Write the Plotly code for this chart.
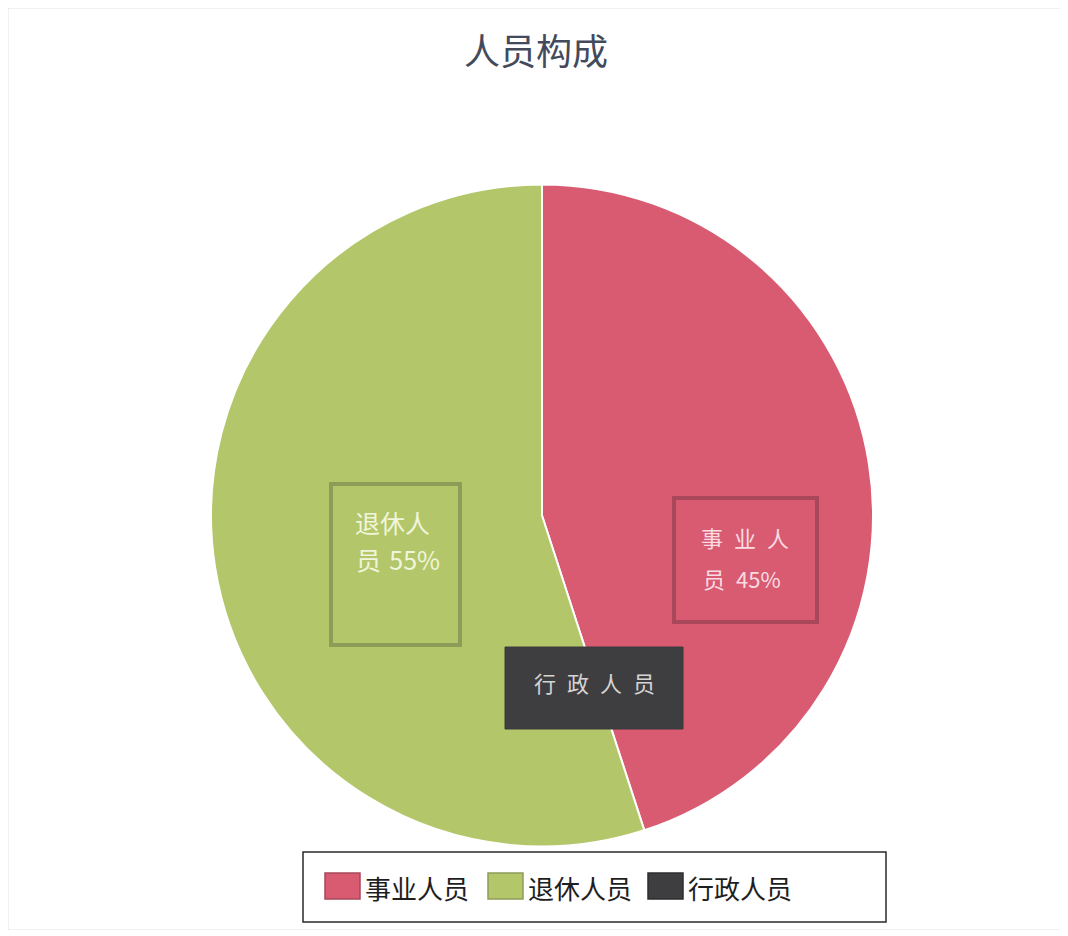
import plotly.graph_objects as go

W, H = 1056, 922
OX, OY = 8, 8  # page body margin offset

categories = ["事业人员", "退休人员", "行政人员"]
values = [45, 55, 0]
colors = ["#D95B72", "#B3C76A", "#3E3E40"]
title_text = "人员构成"

FONT = "Noto Sans CJK SC"
EN = "\u2002"
TPM = "\u2004"


def px(x):
    return (x - OX) / W


def py(y):
    return 1 - (y - OY) / H


fig = go.Figure()
fig.add_trace(go.Pie(
    labels=categories,
    values=values,
    sort=False,
    direction="clockwise",
    rotation=0,
    marker=dict(colors=colors, line=dict(color="white", width=2)),
    textinfo="none",
    hoverinfo="label+percent",
    domain=dict(x=[px(211), px(873)], y=[py(847), py(184)]),
    showlegend=False,
))

total = sum(values)
pcts = [round(v * 100 / total) for v in values]

shapes = []
annotations = []

# Data label boxes
boxes = [
    (674, 498, 817, 622, "#A8485A", "rgba(0,0,0,0)", 4),
    (331, 484, 460, 645, "#8E9C58", "rgba(0,0,0,0)", 4),
    (505, 647, 683, 729, "#3A3A3C", "#3E3E40", 1),
]
for (x0, y0, x1, y1, bc, fc, lw) in boxes:
    shapes.append(dict(type="rect", xref="paper", yref="paper",
                       x0=px(x0), x1=px(x1), y0=py(y1), y1=py(y0),
                       line=dict(color=bc, width=lw), fillcolor=fc, layer="above"))

# Label texts built from data
label_specs = [
    # (line1 pos, line2 pos, font size, char spacer, gap, color)
    ((699, 537), (701, 578), 22, EN, EN, "#F8DCE1"),
    ((353, 522), (354, 559), 25, "", TPM, "#F1F5DC"),
]
for i, (p1, p2, fs, sp, gap, col) in enumerate(label_specs):
    cat = categories[i]
    line1 = sp.join(cat[:3])
    line2 = f"{cat[3:]}{gap}{pcts[i]}%"
    for (x, y), t in ((p1, line1), (p2, line2)):
        annotations.append(dict(text=t, x=px(x), y=py(y), xref="paper", yref="paper",
                                showarrow=False, xanchor="left", yanchor="middle",
                                font=dict(size=fs, color=col, family=FONT)))
annotations.append(dict(text=EN.join(categories[2]), x=px(594), y=py(682),
                        xref="paper", yref="paper", showarrow=False,
                        xanchor="center", yanchor="middle",
                        font=dict(size=22, color="#D4D4D4", family=FONT)))

# Custom legend
shapes.append(dict(type="rect", xref="paper", yref="paper",
                   x0=px(303), x1=px(886), y0=py(922), y1=py(852),
                   line=dict(color="#2A2A2A", width=1.5), fillcolor="white",
                   layer="above"))
swatch_x = [325, 488, 648]
swatch_border = ["#A8485A", "#8E9C58", "#2E2E30"]
for i, cat in enumerate(categories):
    sx = swatch_x[i]
    shapes.append(dict(type="rect", xref="paper", yref="paper",
                       x0=px(sx), x1=px(sx + 35), y0=py(899), y1=py(873),
                       line=dict(color=swatch_border[i], width=1.5),
                       fillcolor=colors[i], layer="above"))
    annotations.append(dict(text=cat, x=px(sx + 38), y=py(887), xref="paper",
                            yref="paper", showarrow=False, xanchor="left",
                            yanchor="middle",
                            font=dict(size=26, color="#1E1E1E", family=FONT)))

# faint outer frame
shapes.append(dict(type="rect", xref="paper", yref="paper", x0=0, x1=1,
                   y0=0, y1=1, line=dict(color="#E4E4E4", width=1), layer="below"))

fig.update_layout(
    width=W, height=H,
    margin=dict(l=0, r=0, t=0, b=0),
    paper_bgcolor="white",
    plot_bgcolor="white",
    font=dict(family=FONT, color="#222222"),
    title=dict(text=title_text, x=px(536), xanchor="center", y=py(52), yanchor="middle",
               font=dict(size=36, color="#434A5C", family=FONT)),
    shapes=shapes,
    annotations=annotations,
)

fig.write_html("out.html")
